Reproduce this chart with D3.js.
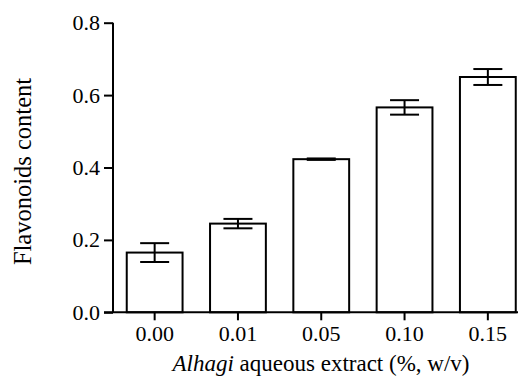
<!DOCTYPE html>
<html>
<head>
<meta charset="utf-8">
<script src="https://cdn.jsdelivr.net/npm/d3@7"></script>
<style>
  html, body { margin: 0; padding: 0; background: #fff; }
  svg { display: block; }
</style>
</head>
<body>
<svg id="chart" width="522" height="380"></svg>
<script>
// Flavonoid content at each Alhagi extract concentration (mean ± error)
const categories = ["0.00", "0.01", "0.05", "0.10", "0.15"];
const means = [0.165, 0.245, 0.423, 0.566, 0.650];
const errors = [0.026, 0.013, 0.002, 0.020, 0.022];
const yTicks = [0.0, 0.2, 0.4, 0.6, 0.8];

const serif = '"Liberation Serif"';
const svg = d3.select("#chart")
  .attr("font-family", "Liberation Serif");
const plotLeft = 113, plotRight = 529.5, plotTop = 22.7, plotBottom = 312.3;

const x = d3.scaleBand()
  .domain(categories)
  .range([plotLeft, plotRight])
  .paddingInner(0.33)
  .paddingOuter(0.165);

const y = d3.scaleLinear()
  .domain([0, 0.8])
  .range([plotBottom, plotTop]);

const data = categories.map((c, i) => ({ c, m: means[i], e: errors[i] }));

// Bars
svg.append("g")
  .selectAll("rect")
  .data(data)
  .join("rect")
  .attr("x", d => x(d.c))
  .attr("y", d => y(d.m))
  .attr("width", x.bandwidth())
  .attr("height", d => y(0) - y(d.m))
  .attr("fill", "#fff")
  .attr("stroke", "#000")
  .attr("stroke-width", 2);

// Error bars
const capHalf = 14.5;
const eb = svg.append("g").attr("stroke", "#000").attr("stroke-width", 2);
data.forEach(d => {
  const cx = x(d.c) + x.bandwidth() / 2;
  eb.append("line").attr("x1", cx).attr("x2", cx)
    .attr("y1", y(d.m + d.e)).attr("y2", y(d.m - d.e));
  eb.append("line").attr("x1", cx - capHalf).attr("x2", cx + capHalf)
    .attr("y1", y(d.m + d.e)).attr("y2", y(d.m + d.e));
  eb.append("line").attr("x1", cx - capHalf).attr("x2", cx + capHalf)
    .attr("y1", y(d.m - d.e)).attr("y2", y(d.m - d.e));
});

// Y axis
const yAxis = svg.append("g")
  .attr("transform", `translate(${plotLeft},0)`)
  .call(d3.axisLeft(y).tickValues(yTicks).tickFormat(d3.format(".1f")).tickSize(9).tickPadding(4));
yAxis.select(".domain").attr("d", `M0,${plotTop}V${plotBottom}`);

// X axis
const xAxis = svg.append("g")
  .attr("transform", `translate(0,${plotBottom})`)
  .call(d3.axisBottom(x).tickSize(8).tickPadding(5).tickSizeOuter(0));
xAxis.select(".domain").attr("d", `M${plotLeft - 9},0H518`);

// Serif labels throughout, thick black axis strokes
[yAxis, xAxis].forEach(g => g.attr("font-family", null).attr("font-size", null));
svg.selectAll(".domain, .tick line")
  .attr("stroke", "#000").attr("stroke-width", 2);
svg.selectAll(".tick text")
  .style("font-family", serif)
  .style("font-size", "22px")
  .attr("fill", "#000");

// Axis titles
const xt = svg.append("text")
  .attr("x", 321).attr("y", 371)
  .attr("text-anchor", "middle")
  .attr("fill", "#000")
  .style("font-family", serif)
  .style("font-size", "23px");
xt.append("tspan").style("font-style", "italic").text("Alhagi");
xt.append("tspan").text(" aqueous extract (%, w/v)");

svg.append("text")
  .attr("transform", "translate(31,171.5) rotate(-90)")
  .attr("text-anchor", "middle")
  .attr("fill", "#000")
  .style("font-family", serif)
  .style("font-size", "24.5px")
  .text("Flavonoids content");
</script>
</body>
</html>
